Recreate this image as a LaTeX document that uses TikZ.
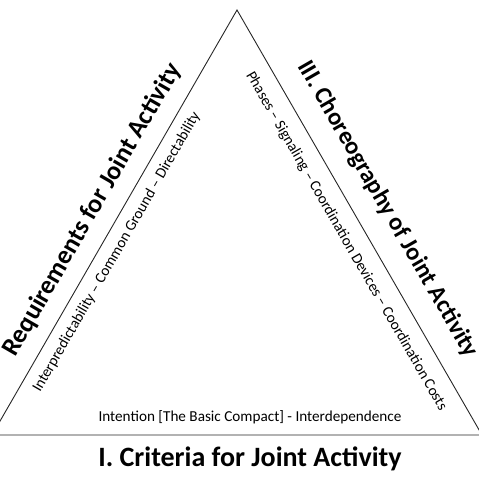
\documentclass[tikz,border=0pt]{standalone}
\usepackage{fontspec}
\setmainfont{Carlito}
\usetikzlibrary{positioning}

\begin{document}
\begin{tikzpicture}[x=1pt, y=1pt,
    side/.style={draw=black!85, line width=0.9pt},
    ttl/.style={font=\bfseries\fontsize{26}{28}\selectfont, inner sep=0pt},
    itm/.style={font=\fontsize{15.2}{17}\selectfont, inner sep=0pt}]

  \clip (0,0) rectangle (479,479);

  \coordinate (top) at (237,469);
  \coordinate (lft) at (-8,44);
  \coordinate (rgt) at (482,44);

  \draw[side] (lft) -- (top) -- (rgt) -- cycle;

  % side II
  \path (lft) -- (top)
    node[ttl, sloped, pos=0.5, above=14pt] (req) {Requirements for Joint Activity}
    node[itm, sloped, pos=0.45, below=10pt] (reqi) {Interpredictability -- Common Ground -- Directability};

  % side III
  \path (top) -- (rgt)
    node[ttl, font=\bfseries\fontsize{24.5}{27}\selectfont, sloped, pos=0.505, above=20pt] (cho) {III. Choreography of Joint Activity}
    node[itm, sloped, pos=0.52, below=14pt] (choi) {Phases -- Signaling -- Coordination Devices -- Coordination Costs};

  % side I
  \node[itm] (crii) at (250,62) {Intention [The Basic Compact] - Interdependence};
  \node[ttl, font=\bfseries\fontsize{28}{30}\selectfont, below=23pt of crii] (cri) {I. Criteria for Joint Activity};
\end{tikzpicture}
\end{document}
